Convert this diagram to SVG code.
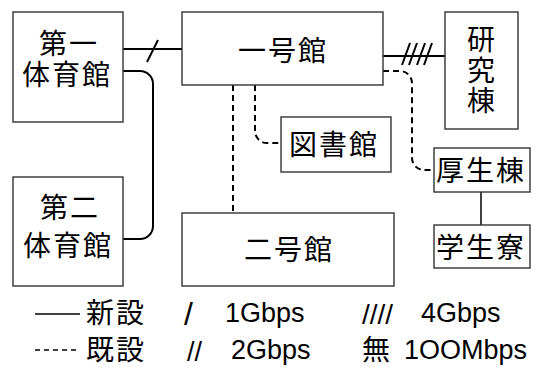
<svg xmlns="http://www.w3.org/2000/svg" width="543" height="367" viewBox="0 0 543 367">
<style>
.box{fill:#fff;stroke:#333;stroke-width:1.4}
.lbl{font-family:"Liberation Sans","Noto Sans CJK JP",sans-serif;font-size:28px;letter-spacing:2px;fill:#000}
.lat{font-family:"Liberation Sans",sans-serif;font-size:27px;fill:#000}
.sl{font-family:"Liberation Sans",sans-serif;fill:#000}
.c{fill:none;stroke:#000;stroke-width:2}
.d{fill:none;stroke:#000;stroke-width:2;stroke-dasharray:6 4}
</style>
<rect width="543" height="367" fill="#fff"/>
<g id="connectors">
<line class="c" x1="123" y1="49" x2="182" y2="49"/>
<line class="c" x1="147" y1="62" x2="158" y2="40"/>
<path class="c" d="M123,71 H140 A13,13 0 0 1 153,84 V226 A13,13 0 0 1 140,239 H123"/>
<line class="c" x1="383" y1="56" x2="445" y2="56"/>
<line class="c" x1="402" y1="65" x2="410" y2="43"/>
<line class="c" x1="409" y1="65" x2="417" y2="43"/>
<line class="c" x1="417" y1="65" x2="425" y2="43"/>
<line class="c" x1="424" y1="65" x2="432" y2="43"/>
<path class="d" d="M383,71 H400 A12,12 0 0 1 412,83 V158 A12,12 0 0 0 424,170 H434"/>
<path class="d" d="M255,85 V131 A12,12 0 0 0 267,143 H281"/>
<line class="d" x1="233" y1="85" x2="233" y2="213"/>
<line class="c" x1="481" y1="192" x2="481" y2="225" style="stroke-width:1.5"/>
</g>
<g id="dai1">
<rect class="box" x="13" y="12" width="110" height="110"/>
<text class="lbl" x="39" y="54">第一</text>
<text class="lbl" x="22" y="85">体育館</text>
</g>
<g id="dai2">
<rect class="box" x="13" y="177" width="110" height="109"/>
<text class="lbl" x="40" y="218">第二</text>
<text class="lbl" x="23" y="256">体育館</text>
</g>
<g id="ichigokan">
<rect class="box" x="182" y="12" width="201" height="73"/>
<text class="lbl" x="238" y="61">一号館</text>
</g>
<g id="kenkyuto">
<rect class="box" x="445" y="12" width="73" height="117"/>
<text class="lbl" x="467" y="50">研</text>
<text class="lbl" x="467" y="81">究</text>
<text class="lbl" x="467" y="111">棟</text>
</g>
<g id="toshokan">
<rect class="box" x="281" y="117" width="110" height="55"/>
<text class="lbl" x="289" y="155">図書館</text>
</g>
<g id="nigokan">
<rect class="box" x="182" y="213" width="212" height="73"/>
<text class="lbl" x="244" y="260">二号館</text>
</g>
<g id="koseito">
<rect class="box" x="434" y="148" width="96" height="44"/>
<text class="lbl" x="436" y="181">厚生棟</text>
</g>
<g id="gakuseiryo">
<rect class="box" x="434" y="225" width="96" height="43"/>
<text class="lbl" x="436" y="258">学生寮</text>
</g>
<g id="legend">
<line class="c" x1="35" y1="314" x2="80" y2="314" style="stroke-width:1.5"/>
<line class="d" x1="35" y1="350" x2="80" y2="350" style="stroke-width:1.5;stroke-dasharray:5 4"/>
<text class="lbl" x="86" y="323">新設</text>
<text class="lbl" x="86" y="360">既設</text>
<text class="sl" x="184" y="325" font-size="32">/</text>
<text class="sl" x="187" y="361" font-size="27">//</text>
<text class="lat" x="225" y="322">1Gbps</text>
<text class="lat" x="231" y="359">2Gbps</text>
<text class="sl" x="362" y="324" font-size="28">////</text>
<text class="lat" x="421" y="322">4Gbps</text>
<text class="lbl" x="362" y="360">無</text>
<text class="lat" x="404" y="359">1OOMbps</text>
</g>
</svg>
